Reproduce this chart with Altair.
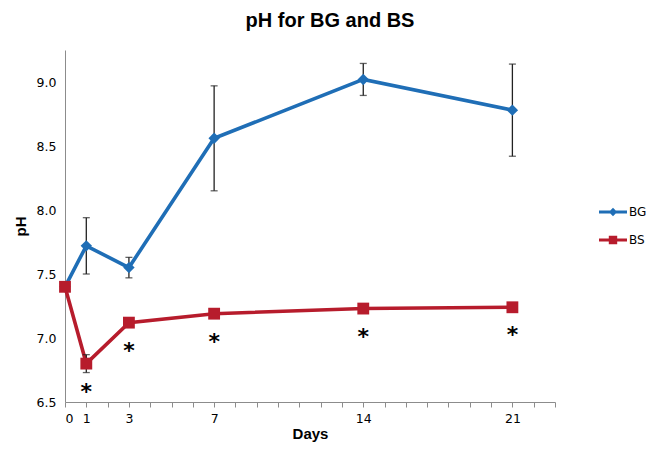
import altair as alt
import pandas as pd

# ---- data ----
days = [0, 1, 3, 7, 14, 21]
bg_ph = [7.40, 7.72, 7.55, 8.56, 9.02, 8.78]
bg_err = [0.0, 0.22, 0.08, 0.41, 0.125, 0.36]
bs_ph = [7.40, 6.80, 7.12, 7.19, 7.23, 7.24]
bs_err = [0.0, 0.07, 0.03, 0.0, 0.0, 0.0]
star_days = [1, 3, 7, 14, 21]
x_label_days = [0, 1, 3, 7, 14, 21]
y_ticks = [6.5, 7.0, 7.5, 8.0, 8.5, 9.0]
series_names = ["BG", "BS"]
series_colors = ["#1F6EB6", "#B71C2C"]

rows = []
for name, vals, errs in [("BG", bg_ph, bg_err), ("BS", bs_ph, bs_err)]:
    for d, v, e in zip(days, vals, errs):
        rows.append({"series": name, "day": d, "ph": v, "err": e,
                     "lo": v - e, "hi": v + e})
df = pd.DataFrame(rows)
star_df = pd.DataFrame({"day": star_days,
                        "ph": [bs_ph[days.index(d)] for d in star_days],
                        "mark": ["*"] * len(star_days)})

FONT = "DejaVu Sans"
BOLD = "Liberation Sans"

x_scale = alt.Scale(domain=[0, 23], nice=False)
y_scale = alt.Scale(domain=[6.5, 9.25], nice=False, zero=False)
x_axis = alt.Axis(title="Days", values=list(range(0, 24)),
                  labelExpr="indexof([" + ",".join(str(v) for v in x_label_days) + "], datum.value) >= 0 ? datum.label : ''",
                  labelOverlap=False, labelBound=False,
                  grid=False, tickSize=5, labelPadding=5, titlePadding=2)
y_axis = alt.Axis(title="pH", values=y_ticks, format=".1f", grid=False,
                  ticks=False, labelPadding=9, titlePadding=8)


def X(field="day"):
    return alt.X(f"{field}:Q", scale=x_scale, axis=x_axis)


def Y(field="ph"):
    return alt.Y(f"{field}:Q", scale=y_scale, axis=y_axis)


base = alt.Chart(df)

errs = df[df.err > 0]
err_rule = alt.Chart(errs).mark_rule(color="#222222", strokeWidth=1.3).encode(
    x=X(), y=Y("lo"), y2="hi:Q")
err_cap_lo = alt.Chart(errs).mark_tick(color="#222222", thickness=1.3, size=7,
                                       orient="horizontal").encode(x=X(), y=Y("lo"))
err_cap_hi = alt.Chart(errs).mark_tick(color="#222222", thickness=1.3, size=7,
                                       orient="horizontal").encode(x=X(), y=Y("hi"))

line_bg = base.transform_filter("datum.series == 'BG'").mark_line(
    strokeWidth=3.6, color=series_colors[0]).encode(x=X(), y=Y())
line_bs = base.transform_filter("datum.series == 'BS'").mark_line(
    strokeWidth=3.6, color=series_colors[1]).encode(x=X(), y=Y())

pts_bg = base.transform_filter("datum.series == 'BG'").mark_point(
    shape="diamond", filled=True, opacity=1, size=130, color=series_colors[0]
).encode(x=X(), y=Y())
pts_bs = base.transform_filter("datum.series == 'BS'").mark_point(
    shape="square", filled=True, opacity=1, size=140, color=series_colors[1]
).encode(x=X(), y=Y())

bg_path = "M-1,-0.1H1V0.1H-1Z M0,-0.3L0.3,0L0,0.3L-0.3,0Z"
bs_path = "M-1,-0.1H1V0.1H-1Z M-0.3,-0.3H0.3V0.3H-0.3Z"
leg = alt.Legend(title=None, orient="none", legendX=533, legendY=147,
                 symbolSize=784, labelFont=FONT, labelFontSize=12,
                 labelColor="#000000", rowPadding=5, labelOffset=1,
                 symbolOpacity=1)
legend_layer = base.transform_filter("false").mark_point(filled=True, opacity=1).encode(
    x=X(), y=Y(),
    color=alt.Color("series:N", scale=alt.Scale(domain=series_names,
                                                range=series_colors), legend=leg),
    shape=alt.Shape("series:N", scale=alt.Scale(domain=series_names,
                                                range=[bg_path, bs_path]), legend=leg))

stars = alt.Chart(star_df).mark_text(
    font=FONT, fontSize=22, fontWeight="bold", baseline="top", dy=18, color="#000000"
).encode(x=X(), y=Y(), text="mark:N")

chart = alt.layer(
    line_bg, line_bs, err_rule, err_cap_lo, err_cap_hi, pts_bg, pts_bs, stars,
    legend_layer
).properties(
    width=490, height=352,
    autosize=alt.AutoSizeParams(type="none"),
    padding={"left": 57, "top": 42, "right": 97, "bottom": 42},
    title=alt.TitleParams("pH for BG and BS", font=BOLD, fontSize=20,
                          fontWeight="bold", anchor="middle", dx=20,
                          offset=19, color="#000000"),
).configure_view(stroke=None).configure_axis(
    domainColor="#8c8c8c", tickColor="#8c8c8c", labelFont=FONT,
    labelFontSize=12.5, labelColor="#000000", titleFont=BOLD,
    titleFontSize=15, titleFontWeight="bold", titleColor="#000000"
)

chart.save("out.html", embed_options={"renderer": "svg", "actions": False})
